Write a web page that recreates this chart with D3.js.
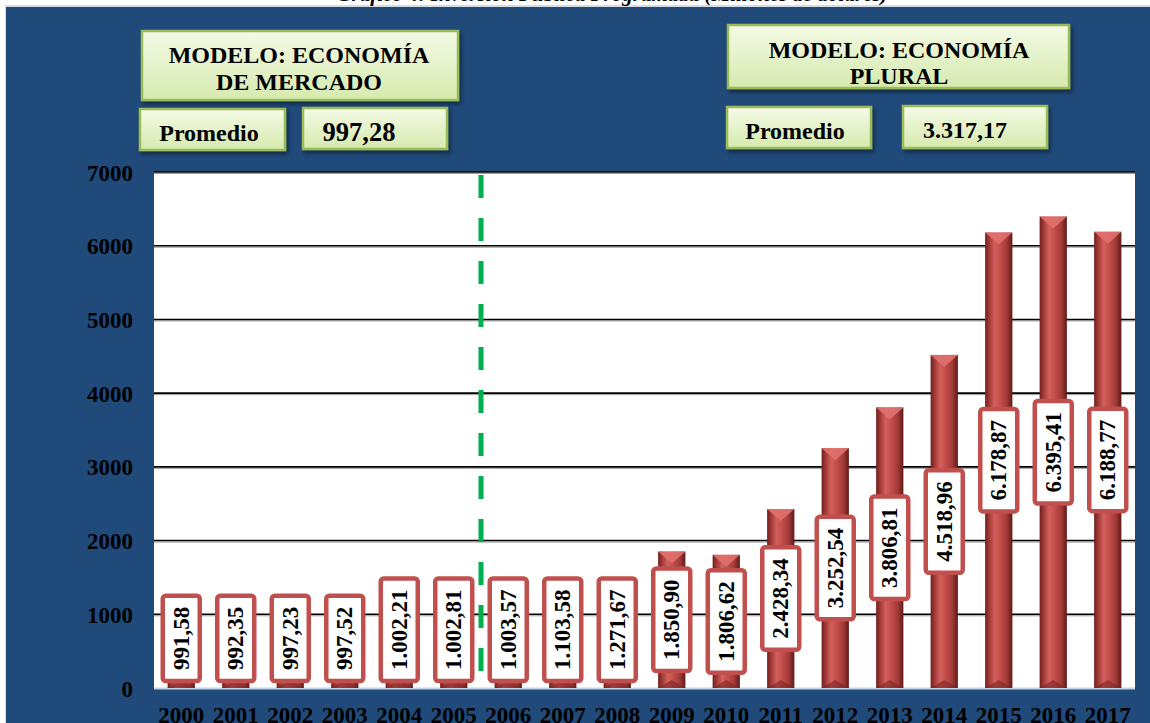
<!DOCTYPE html>
<html><head><meta charset="utf-8">
<script src="https://cdn.jsdelivr.net/npm/d3@7"></script>
<style>
html,body{margin:0;padding:0;background:#fff;overflow:hidden;}
svg{display:block;}
text{font-family:"Liberation Serif","Times New Roman",serif;font-weight:bold;}
</style></head><body>
<svg id="c" width="1150" height="723"></svg>
<script>
const years = ["2000","2001","2002","2003","2004","2005","2006","2007","2008","2009","2010","2011","2012","2013","2014","2015","2016","2017"];
const values = [991.58,992.35,997.23,997.52,1002.21,1002.81,1003.57,1103.58,1271.67,1850.90,1806.62,2428.34,3252.54,3806.81,4518.96,6178.87,6395.41,6188.77];
const yTicks = [0,1000,2000,3000,4000,5000,6000,7000];
const titleText = "Gráfico 4: Inversión Pública Programada (Millones de dólares)";
const model1Lines = ["MODELO: ECONOMÍA","DE MERCADO"];
const model2Lines = ["MODELO: ECONOMÍA","PLURAL"];
const avgLabel = "Promedio";
const avg1 = "997,28";
const avg2 = "3.317,17";
const splitAfter = "2005";

const svg = d3.select("#c");
const W = 1150, H = 723;
const loc = d3.formatLocale({decimal:",",thousands:".",grouping:[3],currency:["",""]});
const fmt = loc.format(",.2f");

const defs = svg.append("defs");
const bg = defs.append("linearGradient").attr("id","barG").attr("x1","0").attr("x2","1").attr("y1","0").attr("y2","0");
[[0,"#6e1f1d"],[0.12,"#9a3431"],[0.35,"#d2605c"],[0.5,"#c9524e"],[0.8,"#a13a37"],[1,"#5e1a18"]].forEach(s=>bg.append("stop").attr("offset",s[0]).attr("stop-color",s[1]));
const gg = defs.append("linearGradient").attr("id","boxG").attr("x1","0").attr("x2","0").attr("y1","0").attr("y2","1");
[[0,"#f4fae6"],[1,"#d6eaae"]].forEach(s=>gg.append("stop").attr("offset",s[0]).attr("stop-color",s[1]));
const sh = defs.append("filter").attr("id","sh").attr("x","-10%").attr("y","-10%").attr("width","130%").attr("height","140%");
sh.append("feDropShadow").attr("dx",2).attr("dy",3).attr("stdDeviation",2).attr("flood-color","#000").attr("flood-opacity",0.45);

// background
svg.append("rect").attr("x",5).attr("y",5).attr("width",W-5).attr("height",H-5).attr("fill","#d6dbe3");
svg.append("rect").attr("x",6).attr("y",7).attr("width",W-6).attr("height",H-7).attr("fill","#1f4a7a");

// title (clipped at top)
svg.append("text").attr("x",612).attr("y",1).attr("text-anchor","middle").attr("font-size",21)
  .attr("font-style","italic").attr("fill","#000").text(titleText);

const x0 = 154, x1 = 1135, yTop = 172, yBot = 688;
const x = d3.scaleBand().domain(years).range([x0,x1]).paddingInner(0.5).paddingOuter(0.25);
const y = d3.scaleLinear().domain([0,7000]).range([yBot,yTop]);

svg.append("rect").attr("x",x0).attr("y",yTop).attr("width",x1-x0).attr("height",yBot-yTop).attr("fill","#fff");
svg.append("line").attr("x1",x0).attr("x2",x1).attr("y1",yBot+0.5).attr("y2",yBot+0.5).attr("stroke","#c5d3e6").attr("stroke-width",2);

// gridlines
const grid = svg.append("g");
yTicks.filter(t=>t>0).forEach(t=>{
  grid.append("line").attr("x1",x0).attr("x2",x1).attr("y1",y(t)+1.5).attr("y2",y(t)+1.5).attr("stroke","#999").attr("stroke-width",1);
  grid.append("line").attr("x1",x0).attr("x2",x1).attr("y1",y(t)).attr("y2",y(t)).attr("stroke","#000").attr("stroke-width",1.6);
});

// y axis labels
const yAxis = d3.axisLeft(y).tickValues(yTicks).tickSize(0).tickPadding(0).tickFormat(d3.format("d"));
const ya = svg.append("g").attr("transform",`translate(${x0-21},0)`).call(yAxis);
ya.select(".domain").remove();
ya.selectAll("text").attr("font-size",23).attr("fill","#000").attr("font-family","Liberation Serif, serif").attr("font-weight","bold").attr("dy","0.35em");

// x axis labels
const xAxis = d3.axisBottom(x).tickSize(0).tickPadding(0);
const xa = svg.append("g").attr("transform",`translate(0,${yBot})`).call(xAxis);
xa.select(".domain").remove();
xa.selectAll("text").attr("font-size",23).attr("fill","#000").attr("font-family","Liberation Serif, serif").attr("font-weight","bold").attr("dy",null).attr("y",35);

// bars
const bw = x.bandwidth();
const bars = svg.append("g");
years.forEach((yr,i)=>{
  const bx = x(yr), by = y(values[i]);
  bars.append("rect").attr("x",bx).attr("y",by).attr("width",bw).attr("height",yBot-by).attr("fill","url(#barG)");
  bars.append("path").attr("d",`M${bx},${by}L${bx+bw},${by}L${bx+bw/2},${by+12}Z`).attr("fill","#e0716d").attr("opacity",0.9);
  bars.append("path").attr("d",`M${bx},${yBot}L${bx+bw},${yBot}L${bx+bw/2},${yBot-8}Z`).attr("fill","#7a2522").attr("opacity",0.6);
});

// split line
const sx = x(splitAfter)+bw + x.step()*x.paddingInner()/2;
svg.append("line").attr("x1",sx).attr("x2",sx).attr("y1",yTop+3).attr("y2",yBot).attr("stroke","#00b050").attr("stroke-width",5).attr("stroke-dasharray","23,20");

// value labels
const lab = svg.append("g");
years.forEach((yr,i)=>{
  const cx = x(yr)+bw/2;
  const g = lab.append("g");
  const t = g.append("text").attr("font-size",23).attr("fill","#000").attr("text-anchor","middle").attr("dy","0.33em").text(fmt(values[i]));
  const len = t.node().getComputedTextLength();
  const h = len + 22, w = 37;
  let cy = (y(values[i])+yBot)/2;
  if (cy + h/2 > yBot-7) cy = yBot-7-h/2;
  g.insert("rect","text").attr("x",-w/2).attr("y",-h/2).attr("width",w).attr("height",h).attr("rx",3)
    .attr("fill","#fff").attr("stroke","#c0504d").attr("stroke-width",4.5);
  t.attr("transform","rotate(-90)");
  g.attr("transform",`translate(${cx},${cy})`);
});

// info boxes
function box(x,y,w,h,lines,tx,ty,lh,fs,anchor){
  const g = svg.append("g");
  g.append("rect").attr("x",x).attr("y",y).attr("width",w).attr("height",h).attr("fill","url(#boxG)").attr("stroke","#9bbb59").attr("stroke-width",2.5).attr("filter","url(#sh)");
  lines.forEach((l,i)=>g.append("text").attr("x",tx).attr("y",ty+i*lh).attr("text-anchor",anchor||"middle").attr("font-size",fs).attr("fill","#000").text(l));
}
box(142,31,316,69,model1Lines,299,63,27,24);
box(140,109,145,41,[avgLabel],209,141,0,24);
box(303,108,144,41,[avg1],359,141,0,26.5);
box(728,25,341,63,model2Lines,899,58,26,24);
box(727,107,144,41,[avgLabel],795,139,0,24);
box(903,106,144,42,[avg2],965,138,0,24);
</script></body></html>
